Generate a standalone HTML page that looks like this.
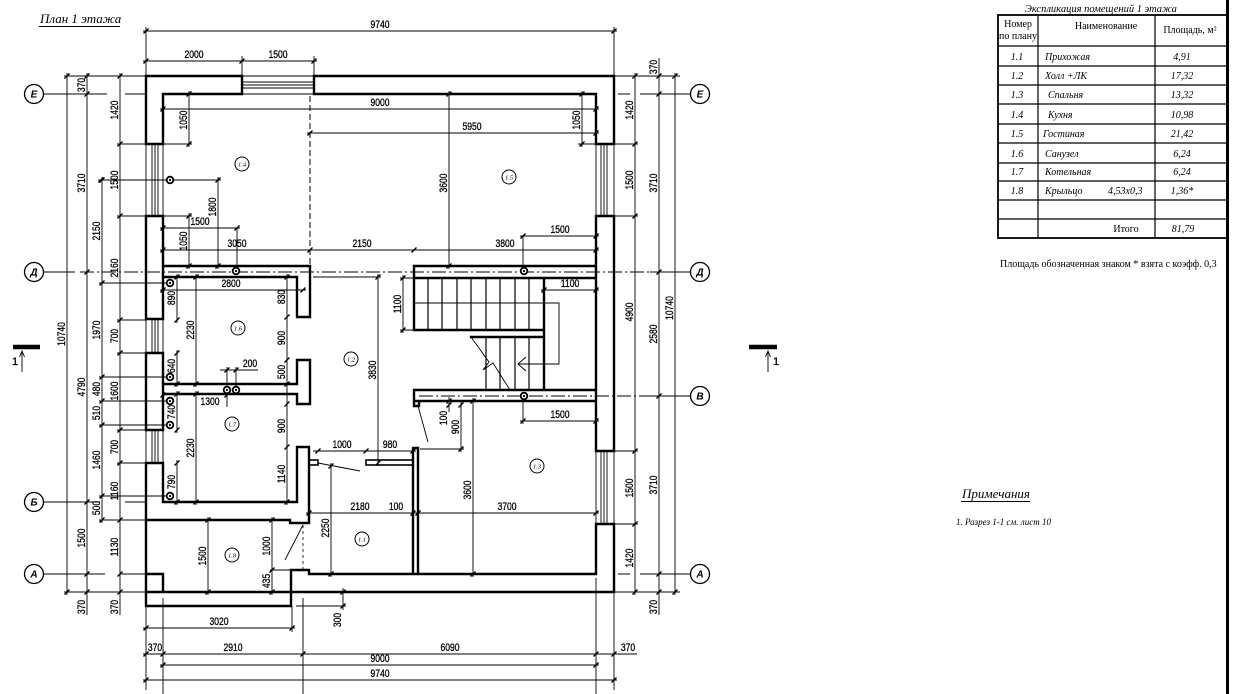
<!DOCTYPE html>
<html><head><meta charset="utf-8">
<style>
html,body{margin:0;padding:0;background:#fff;}
svg{display:block;}
.w{stroke:#000;stroke-width:2.4;fill:none;stroke-linecap:square}
.p{stroke:#000;stroke-width:1.6;fill:none}
.t{stroke:#000;stroke-width:0.9;fill:none}
.k{stroke:#000;stroke-width:1.2;fill:none}
.tk{stroke:#000;stroke-width:1.4;fill:none}
.ax{stroke:#000;stroke-width:0.9;fill:none}
.dd{stroke:#000;stroke-width:0.9;fill:none;stroke-dasharray:14 3 2 3}
.n{font-family:"Liberation Sans",sans-serif;font-size:11px;text-anchor:middle;fill:#000;stroke:#000;stroke-width:0.3}
.s{font-family:"Liberation Serif",serif;fill:#000}
.si{font-family:"Liberation Serif",serif;font-style:italic;fill:#000}
.bl{font-family:"Liberation Sans",sans-serif;font-style:italic;font-weight:bold;font-size:10px;text-anchor:middle;fill:#000}
.rl{font-family:"Liberation Serif",serif;font-style:italic;font-size:6.5px;text-anchor:middle;fill:#000}
</style></head>
<body>
<svg width="1234" height="694" viewBox="0 0 1234 694" xmlns="http://www.w3.org/2000/svg">
<rect x="0" y="0" width="1234" height="694" fill="#fff"/>

<!-- Title -->
<text class="si" x="40" y="23" font-size="13">План 1 этажа</text>
<line x1="39" y1="26.5" x2="120" y2="26.5" stroke="#000" stroke-width="1"/>

<!-- ===== WALLS ===== -->
<path class="w" d="M146,76H242 M314,76H614 M163,94H242 M314,94H596 M242,76V94 M314,76V94
M614,76V144 M614,216V451 M614,524V592
M596,94V144 M596,216V451 M596,524V574
M596,144H614 M596,216H614 M596,451H614 M596,524H614
M146,76V144 M146,216V319 M146,353V430 M146,463V606
M163,94V144 M163,216V319 M163,353V430 M163,463V502
M146,144H163 M146,216H163 M146,319H163 M146,353H163 M146,430H163 M146,463H163
M146,592H614 M309,574H596
M146,606H291V570H309V574 M146,574H163V592
M163,502H297 M146,520H290V523H309
M297,447H309V523 M297,447V502
M297,277V317H310 M310,266V317 M310,360H297V384 M297,394V404H310V360
M163,384H297 M163,394H297
M163,266H310 M163,277H297
M414,266H596 M414,266V278H596
M414,278V330H544 M544,278V390 M471,337H544
M414,390H596 M414,390V401H596 M414,401V406H419V401
M413,448V574 M418,448V574 M413,448H418"/>
<rect class="p" x="309" y="460" width="9" height="5"/>
<rect class="p" x="366" y="460" width="47" height="5"/>

<!-- windows -->
<path class="t" d="M242,76H314 M242,82H314 M242,85H314 M242,88H314 M242,94H314
M146,144V216 M152,144V216 M155,144V216 M158,144V216 M163,144V216
M146,319V353 M152,319V353 M155,319V353 M158,319V353 M163,319V353
M146,430V463 M152,430V463 M155,430V463 M158,430V463 M163,430V463
M596,144V216 M601,144V216 M604,144V216 M607,144V216 M614,144V216
M596,451V524 M601,451V524 M604,451V524 M607,451V524 M614,451V524"/>

<!-- stairs -->
<path class="k" d="M428,278V330 M442,278V330 M457,278V330 M471,278V330 M486,278V330 M500,278V330 M515,278V330 M529,278V330
M486,337V390 M500,337V390 M515,337V390 M529,337V390"/>
<path class="t" d="M414,303H544 M544,303H559V364H518 M526,357L518,364L526,371"/>
<path class="t" d="M471,337L489,362L483,370L493,363L510,390"/>

<!-- dashed lines & doors -->
<line x1="310" y1="96" x2="310" y2="266" stroke="#000" stroke-width="1" stroke-dasharray="6 3"/>
<line x1="303" y1="525" x2="303" y2="570" stroke="#000" stroke-width="0.8" stroke-dasharray="3 3"/>
<path class="t" d="M303,525L285,560 M318,463L360,471 M418,406L428,442"/>

<!-- axis lines -->
<path class="ax" d="M43,94H107 M125,94H146 M43,272H75 M43,502H100 M125,502H146 M43,574H105 M120,574H146
M618,94H630 M640,94H691 M650,272H691 M650,396H691 M618,574H630 M640,574H691"/>
<path class="dd" d="M80,272H650 M419,396H650"/>

<!-- bubbles -->
<g fill="#fff" stroke="#000" stroke-width="1.3">
<circle cx="34" cy="94" r="9.5"/><circle cx="34" cy="272" r="9.5"/><circle cx="34" cy="502" r="9.5"/><circle cx="34" cy="574" r="9.5"/>
<circle cx="700" cy="94" r="9.5"/><circle cx="700" cy="272" r="9.5"/><circle cx="700" cy="396" r="9.5"/><circle cx="700" cy="574" r="9.5"/>
</g>
<text class="bl" x="34" y="97.5">Е</text><text class="bl" x="34" y="275.5">Д</text><text class="bl" x="34" y="505.5">Б</text><text class="bl" x="34" y="577.5">А</text>
<text class="bl" x="700" y="97.5">Е</text><text class="bl" x="700" y="275.5">Д</text><text class="bl" x="700" y="399.5">В</text><text class="bl" x="700" y="577.5">А</text>

<!-- section marks -->
<line x1="13" y1="347" x2="40" y2="347" stroke="#000" stroke-width="4.5"/>
<path class="t" d="M22,372V351 M19.5,357L22,351L24.5,357"/>
<text class="n" x="15" y="365" font-size="12">1</text>
<line x1="749" y1="347" x2="777" y2="347" stroke="#000" stroke-width="4.5"/>
<path class="t" d="M768,372V351 M765.5,357L768,351L770.5,357"/>
<text class="n" x="776" y="365" font-size="12">1</text>

<!-- ===== DIMENSION LINES ===== -->
<path class="t" d="M143,31H617 M143,61H317 M160,109H599 M307,133H599 M98,180H221 M160,228H240 M160,216H192
M160,250H599 M520,236H599 M160,290H306 M541,290H599 M220,370H258 M520,421H599 M313,451H416 M306,513H599
M143,628H295 M143,654H637 M160,665H599 M143,680H617
M146,27V76 M614,27V76 M242,56V76 M314,56V76
M64,76H146 M117,144H146 M117,216H146 M117,320H146 M117,353H146 M117,430H146 M117,463H146
M99,283H172 M99,377H172 M99,401H172 M99,425H172 M99,496H172 M99,520H146 M64,592H146 M163,144H192
M614,76H680 M614,144H638 M614,216H638 M614,451H638 M614,524H638 M614,592H680
M578,144H596 M313,277H381 M400,278H414 M400,330H414
M237,228V272 M523,236V270 M523,396V424 M227,367V407 M236,367V390
M420,449H464 M270,570H292 M296,606H346
M146,606V690 M163,598V694 M292,606V632 M303,598V694 M596,578V694 M614,592V690
M67,73V595 M87,73V615 M102,177V523 M120,73V615 M189,91V147 M189,213V269 M218,177V269
M177,274V323 M177,350V387 M177,391V433 M177,460V505 M196,274V387 M196,391V505 M287,274V505
M449,91V269 M582,91V147 M403,275V333 M378,274V466 M208,517V595 M272,517V595 M331,463V577
M449,397V412 M461,402V452 M473,398V577 M343,588V610
M635,73V595 M659,58V615 M675,73V595"/>

<!-- ticks -->
<path class="tk" d="
M146,31m-2.5,2.5l5,-5 M614,31m-2.5,2.5l5,-5
M146,61m-2.5,2.5l5,-5 M242,61m-2.5,2.5l5,-5 M314,61m-2.5,2.5l5,-5
M163,109m-2.5,2.5l5,-5 M596,109m-2.5,2.5l5,-5
M310,133m-2.5,2.5l5,-5 M596,133m-2.5,2.5l5,-5
M101,180m-2.5,2.5l5,-5 M218,180m-2.5,2.5l5,-5
M163,228m-2.5,2.5l5,-5 M237,228m-2.5,2.5l5,-5
M163,250m-2.5,2.5l5,-5 M310,250m-2.5,2.5l5,-5 M414,250m-2.5,2.5l5,-5 M596,250m-2.5,2.5l5,-5
M523,236m-2.5,2.5l5,-5 M596,236m-2.5,2.5l5,-5
M163,290m-2.5,2.5l5,-5 M303,290m-2.5,2.5l5,-5 M544,290m-2.5,2.5l5,-5 M596,290m-2.5,2.5l5,-5
M227,370m-2.5,2.5l5,-5 M236,370m-2.5,2.5l5,-5
M163,395m-2.5,2.5l5,-5 M227,395m-2.5,2.5l5,-5
M523,421m-2.5,2.5l5,-5 M596,421m-2.5,2.5l5,-5
M318,451m-2.5,2.5l5,-5 M366,451m-2.5,2.5l5,-5 M413,451m-2.5,2.5l5,-5
M309,513m-2.5,2.5l5,-5 M413,513m-2.5,2.5l5,-5 M418,513m-2.5,2.5l5,-5 M596,513m-2.5,2.5l5,-5
M146,628m-2.5,2.5l5,-5 M292,628m-2.5,2.5l5,-5
M146,654m-2.5,2.5l5,-5 M163,654m-2.5,2.5l5,-5 M303,654m-2.5,2.5l5,-5 M596,654m-2.5,2.5l5,-5 M614,654m-2.5,2.5l5,-5
M163,665m-2.5,2.5l5,-5 M596,665m-2.5,2.5l5,-5
M146,680m-2.5,2.5l5,-5 M614,680m-2.5,2.5l5,-5
M67,76m-2.5,2.5l5,-5 M67,592m-2.5,2.5l5,-5
M87,76m-2.5,2.5l5,-5 M87,94m-2.5,2.5l5,-5 M87,272m-2.5,2.5l5,-5 M87,502m-2.5,2.5l5,-5 M87,574m-2.5,2.5l5,-5 M87,592m-2.5,2.5l5,-5
M102,180m-2.5,2.5l5,-5 M102,283m-2.5,2.5l5,-5 M102,377m-2.5,2.5l5,-5 M102,401m-2.5,2.5l5,-5 M102,425m-2.5,2.5l5,-5 M102,496m-2.5,2.5l5,-5 M102,520m-2.5,2.5l5,-5
M120,76m-2.5,2.5l5,-5 M120,144m-2.5,2.5l5,-5 M120,216m-2.5,2.5l5,-5 M120,320m-2.5,2.5l5,-5 M120,353m-2.5,2.5l5,-5 M120,430m-2.5,2.5l5,-5 M120,463m-2.5,2.5l5,-5 M120,520m-2.5,2.5l5,-5 M120,574m-2.5,2.5l5,-5 M120,592m-2.5,2.5l5,-5
M189,94m-2.5,2.5l5,-5 M189,144m-2.5,2.5l5,-5 M189,216m-2.5,2.5l5,-5 M189,266m-2.5,2.5l5,-5
M218,266m-2.5,2.5l5,-5
M177,277m-2.5,2.5l5,-5 M177,320m-2.5,2.5l5,-5 M177,353m-2.5,2.5l5,-5 M177,384m-2.5,2.5l5,-5 M177,394m-2.5,2.5l5,-5 M177,430m-2.5,2.5l5,-5 M177,463m-2.5,2.5l5,-5 M177,502m-2.5,2.5l5,-5
M196,277m-2.5,2.5l5,-5 M196,384m-2.5,2.5l5,-5 M196,394m-2.5,2.5l5,-5 M196,502m-2.5,2.5l5,-5
M287,277m-2.5,2.5l5,-5 M287,317m-2.5,2.5l5,-5 M287,360m-2.5,2.5l5,-5 M287,384m-2.5,2.5l5,-5 M287,404m-2.5,2.5l5,-5 M287,447m-2.5,2.5l5,-5 M287,502m-2.5,2.5l5,-5
M449,94m-2.5,2.5l5,-5 M449,266m-2.5,2.5l5,-5
M582,94m-2.5,2.5l5,-5 M582,144m-2.5,2.5l5,-5
M403,278m-2.5,2.5l5,-5 M403,330m-2.5,2.5l5,-5
M378,277m-2.5,2.5l5,-5 M378,463m-2.5,2.5l5,-5
M208,520m-2.5,2.5l5,-5 M208,592m-2.5,2.5l5,-5
M272,520m-2.5,2.5l5,-5 M272,570m-2.5,2.5l5,-5 M272,592m-2.5,2.5l5,-5
M331,466m-2.5,2.5l5,-5 M331,574m-2.5,2.5l5,-5
M449,401m-2.5,2.5l5,-5 M449,405m-2.5,2.5l5,-5
M461,405m-2.5,2.5l5,-5 M461,449m-2.5,2.5l5,-5
M473,401m-2.5,2.5l5,-5 M473,574m-2.5,2.5l5,-5
M343,592m-2.5,2.5l5,-5 M343,606m-2.5,2.5l5,-5
M635,76m-2.5,2.5l5,-5 M635,144m-2.5,2.5l5,-5 M635,216m-2.5,2.5l5,-5 M635,451m-2.5,2.5l5,-5 M635,524m-2.5,2.5l5,-5 M635,592m-2.5,2.5l5,-5
M659,76m-2.5,2.5l5,-5 M659,94m-2.5,2.5l5,-5 M659,272m-2.5,2.5l5,-5 M659,396m-2.5,2.5l5,-5 M659,574m-2.5,2.5l5,-5 M659,592m-2.5,2.5l5,-5
M675,76m-2.5,2.5l5,-5 M675,592m-2.5,2.5l5,-5"/>

<!-- dots -->
<g fill="#fff" stroke="#000" stroke-width="1.8">
<circle cx="170" cy="180" r="3.3"/><circle cx="236" cy="271" r="3.3"/><circle cx="524" cy="271" r="3.3"/>
<circle cx="170" cy="283" r="3.3"/><circle cx="170" cy="377" r="3.3"/><circle cx="227" cy="390" r="3.3"/>
<circle cx="236" cy="390" r="3.3"/><circle cx="170" cy="401" r="3.3"/><circle cx="170" cy="425" r="3.3"/>
<circle cx="170" cy="496" r="3.3"/><circle cx="524" cy="396" r="3.3"/>
</g>
<g fill="#000">
<circle cx="170" cy="180" r="1.1"/><circle cx="236" cy="271" r="1.1"/><circle cx="524" cy="271" r="1.1"/>
<circle cx="170" cy="283" r="1.1"/><circle cx="170" cy="377" r="1.1"/><circle cx="227" cy="390" r="1.1"/>
<circle cx="236" cy="390" r="1.1"/><circle cx="170" cy="401" r="1.1"/><circle cx="170" cy="425" r="1.1"/>
<circle cx="170" cy="496" r="1.1"/><circle cx="524" cy="396" r="1.1"/>
</g>

<!-- room labels -->
<g fill="#fff" stroke="#000" stroke-width="1">
<circle cx="242" cy="164" r="7"/><circle cx="509" cy="177" r="7"/><circle cx="238" cy="328" r="7"/>
<circle cx="351" cy="359" r="7"/><circle cx="232" cy="424" r="7"/><circle cx="537" cy="466" r="7"/>
<circle cx="232" cy="555" r="7"/><circle cx="362" cy="539" r="7"/>
</g>
<text class="rl" x="242" y="166.5">1.4</text><text class="rl" x="509" y="179.5">1.5</text><text class="rl" x="238" y="330.5">1.6</text>
<text class="rl" x="351" y="361.5">1.2</text><text class="rl" x="232" y="426.5">1.7</text><text class="rl" x="537" y="468.5">1.3</text>
<text class="rl" x="232" y="557.5">1.8</text><text class="rl" x="362" y="541.5">1.1</text>

<!-- ===== DIMENSION TEXT ===== -->
<g class="n">
<text transform="translate(380,28) scale(0.78,1)">9740</text>
<text transform="translate(194,58) scale(0.78,1)">2000</text>
<text transform="translate(278,58) scale(0.78,1)">1500</text>
<text transform="translate(380,106) scale(0.78,1)">9000</text>
<text transform="translate(472,130) scale(0.78,1)">5950</text>
<text transform="translate(200,225) scale(0.78,1)">1500</text>
<text transform="translate(237,247) scale(0.78,1)">3050</text>
<text transform="translate(362,247) scale(0.78,1)">2150</text>
<text transform="translate(505,247) scale(0.78,1)">3800</text>
<text transform="translate(560,233) scale(0.78,1)">1500</text>
<text transform="translate(231,287) scale(0.78,1)">2800</text>
<text transform="translate(570,287) scale(0.78,1)">1100</text>
<text transform="translate(250,367) scale(0.78,1)">200</text>
<text transform="translate(210,405) scale(0.78,1)">1300</text>
<text transform="translate(560,418) scale(0.78,1)">1500</text>
<text transform="translate(342,448) scale(0.78,1)">1000</text>
<text transform="translate(390,448) scale(0.78,1)">980</text>
<text transform="translate(360,510) scale(0.78,1)">2180</text>
<text transform="translate(396,510) scale(0.78,1)">100</text>
<text transform="translate(507,510) scale(0.78,1)">3700</text>
<text transform="translate(219,625) scale(0.78,1)">3020</text>
<text transform="translate(155,651) scale(0.78,1)">370</text>
<text transform="translate(233,651) scale(0.78,1)">2910</text>
<text transform="translate(450,651) scale(0.78,1)">6090</text>
<text transform="translate(628,651) scale(0.78,1)">370</text>
<text transform="translate(380,662) scale(0.78,1)">9000</text>
<text transform="translate(380,677) scale(0.78,1)">9740</text>

<text transform="translate(65,334) rotate(-90) scale(0.78,1)">10740</text>
<text transform="translate(85,85) rotate(-90) scale(0.78,1)">370</text>
<text transform="translate(85,183) rotate(-90) scale(0.78,1)">3710</text>
<text transform="translate(85,387) rotate(-90) scale(0.78,1)">4790</text>
<text transform="translate(85,538) rotate(-90) scale(0.78,1)">1500</text>
<text transform="translate(85,607) rotate(-90) scale(0.78,1)">370</text>
<text transform="translate(100,231) rotate(-90) scale(0.78,1)">2150</text>
<text transform="translate(100,330) rotate(-90) scale(0.78,1)">1970</text>
<text transform="translate(100,389) rotate(-90) scale(0.78,1)">480</text>
<text transform="translate(100,413) rotate(-90) scale(0.78,1)">510</text>
<text transform="translate(100,460) rotate(-90) scale(0.78,1)">1460</text>
<text transform="translate(100,508) rotate(-90) scale(0.78,1)">500</text>
<text transform="translate(118,110) rotate(-90) scale(0.78,1)">1420</text>
<text transform="translate(118,180) rotate(-90) scale(0.78,1)">1500</text>
<text transform="translate(118,268) rotate(-90) scale(0.78,1)">2160</text>
<text transform="translate(118,336) rotate(-90) scale(0.78,1)">700</text>
<text transform="translate(118,391) rotate(-90) scale(0.78,1)">1600</text>
<text transform="translate(118,447) rotate(-90) scale(0.78,1)">700</text>
<text transform="translate(118,491) rotate(-90) scale(0.78,1)">1160</text>
<text transform="translate(118,547) rotate(-90) scale(0.78,1)">1130</text>
<text transform="translate(118,607) rotate(-90) scale(0.78,1)">370</text>

<text transform="translate(187,120) rotate(-90) scale(0.78,1)">1050</text>
<text transform="translate(187,241) rotate(-90) scale(0.78,1)">1050</text>
<text transform="translate(216,207) rotate(-90) scale(0.78,1)">1800</text>
<text transform="translate(175,298) rotate(-90) scale(0.78,1)">890</text>
<text transform="translate(175,366) rotate(-90) scale(0.78,1)">640</text>
<text transform="translate(175,412) rotate(-90) scale(0.78,1)">740</text>
<text transform="translate(175,482) rotate(-90) scale(0.78,1)">790</text>
<text transform="translate(194,330) rotate(-90) scale(0.78,1)">2230</text>
<text transform="translate(194,448) rotate(-90) scale(0.78,1)">2230</text>
<text transform="translate(285,297) rotate(-90) scale(0.78,1)">830</text>
<text transform="translate(285,338) rotate(-90) scale(0.78,1)">900</text>
<text transform="translate(285,372) rotate(-90) scale(0.78,1)">500</text>
<text transform="translate(285,426) rotate(-90) scale(0.78,1)">900</text>
<text transform="translate(285,474) rotate(-90) scale(0.78,1)">1140</text>
<text transform="translate(447,183) rotate(-90) scale(0.78,1)">3600</text>
<text transform="translate(580,120) rotate(-90) scale(0.78,1)">1050</text>
<text transform="translate(401,304) rotate(-90) scale(0.78,1)">1100</text>
<text transform="translate(376,370) rotate(-90) scale(0.78,1)">3830</text>
<text transform="translate(206,556) rotate(-90) scale(0.78,1)">1500</text>
<text transform="translate(270,546) rotate(-90) scale(0.78,1)">1000</text>
<text transform="translate(270,581) rotate(-90) scale(0.78,1)">435</text>
<text transform="translate(329,528) rotate(-90) scale(0.78,1)">2250</text>
<text transform="translate(447,418) rotate(-90) scale(0.78,1)">100</text>
<text transform="translate(459,427) rotate(-90) scale(0.78,1)">900</text>
<text transform="translate(471,490) rotate(-90) scale(0.78,1)">3600</text>
<text transform="translate(341,620) rotate(-90) scale(0.78,1)">300</text>

<text transform="translate(633,110) rotate(-90) scale(0.78,1)">1420</text>
<text transform="translate(633,180) rotate(-90) scale(0.78,1)">1500</text>
<text transform="translate(633,312) rotate(-90) scale(0.78,1)">4900</text>
<text transform="translate(633,488) rotate(-90) scale(0.78,1)">1500</text>
<text transform="translate(633,558) rotate(-90) scale(0.78,1)">1420</text>
<text transform="translate(657,67) rotate(-90) scale(0.78,1)">370</text>
<text transform="translate(657,183) rotate(-90) scale(0.78,1)">3710</text>
<text transform="translate(657,334) rotate(-90) scale(0.78,1)">2580</text>
<text transform="translate(657,485) rotate(-90) scale(0.78,1)">3710</text>
<text transform="translate(657,607) rotate(-90) scale(0.78,1)">370</text>
<text transform="translate(673,308) rotate(-90) scale(0.78,1)">10740</text>
</g>

<!-- ===== TABLE ===== -->
<text class="si" x="1101" y="12" font-size="10.5" text-anchor="middle">Экспликация помещений 1 этажа</text>
<rect x="998" y="15" width="229" height="223" fill="none" stroke="#000" stroke-width="1.8"/>
<path stroke="#000" stroke-width="1.2" fill="none" d="M1038,15V238 M1155,15V238
M998,46H1227 M998,66H1227 M998,85H1227 M998,104H1227 M998,124H1227 M998,143H1227 M998,163H1227 M998,181H1227 M998,200H1227 M998,219H1227"/>
<g class="s" font-size="10" text-anchor="middle">
<text x="1018" y="27">Номер</text>
<text x="1018" y="39">по плану</text>
<text x="1106" y="29">Наименование</text>
<text x="1190" y="33">Площадь, м²</text>
<text x="1126" y="232">Итого</text>
</g>
<g class="si" font-size="10" text-anchor="middle">
<text x="1017" y="60">1.1</text><text x="1017" y="79">1.2</text><text x="1017" y="98">1.3</text><text x="1017" y="118">1.4</text>
<text x="1017" y="137">1.5</text><text x="1017" y="157">1.6</text><text x="1017" y="175">1.7</text><text x="1017" y="194">1.8</text>
<text x="1182" y="60">4,91</text><text x="1182" y="79">17,32</text><text x="1182" y="98">13,32</text><text x="1182" y="118">10,98</text>
<text x="1182" y="137">21,42</text><text x="1182" y="157">6,24</text><text x="1182" y="175">6,24</text><text x="1182" y="194">1,36*</text>
<text x="1183" y="232">81,79</text>
</g>
<g class="si" font-size="10">
<text x="1045" y="60">Прихожая</text>
<text x="1045" y="79">Холл +ЛК</text>
<text x="1048" y="98">Спальня</text>
<text x="1048" y="118">Кухня</text>
<text x="1043" y="137">Гостиная</text>
<text x="1045" y="157">Санузел</text>
<text x="1045" y="175">Котельная</text>
<text x="1045" y="194">Крыльцо</text>
<text x="1108" y="194">4,53x0,3</text>
</g>
<text class="s" x="1000" y="267" font-size="10">Площадь обозначенная знаком * взята с коэфф. 0,3</text>

<!-- Notes -->
<text class="si" x="962" y="498" font-size="13">Примечания</text>
<line x1="961" y1="501.5" x2="1030" y2="501.5" stroke="#000" stroke-width="1"/>
<text class="si" x="956" y="525" font-size="9">1. Разрез 1-1 см. лист 10</text>

<!-- page border -->
<line x1="1227.5" y1="0" x2="1227.5" y2="694" stroke="#000" stroke-width="3"/>
</svg>
</body></html>
